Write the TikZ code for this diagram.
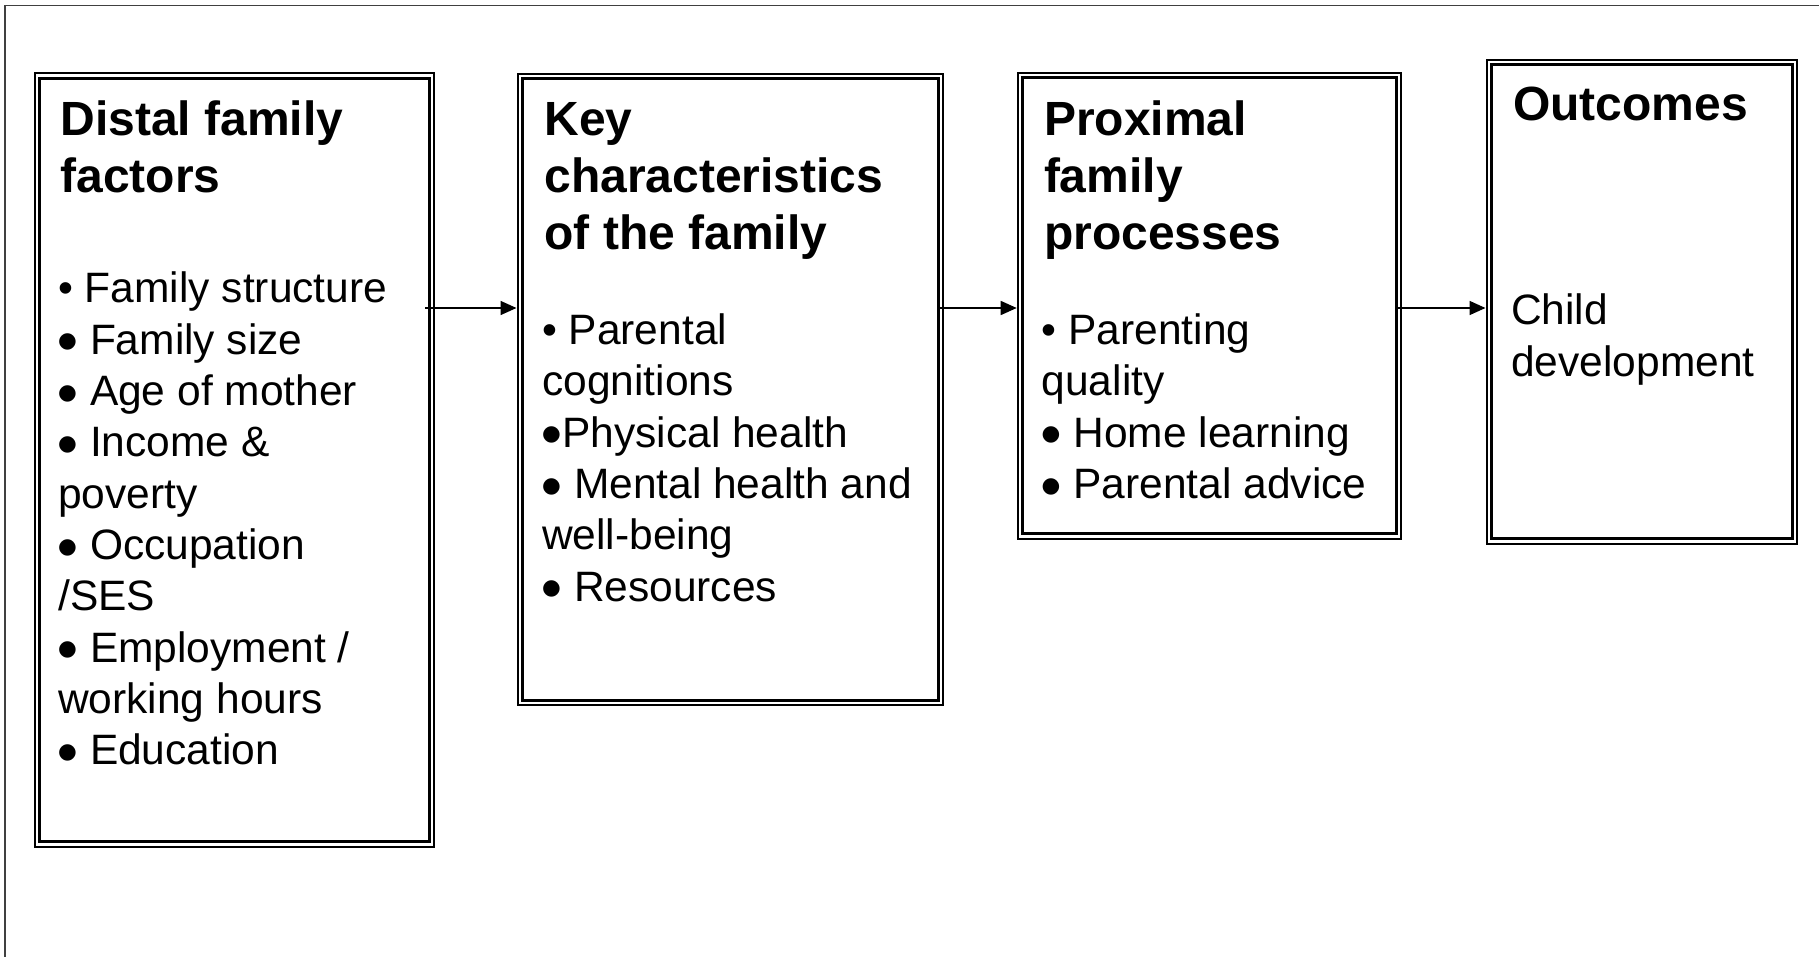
\documentclass[tikz,border=0pt]{standalone}
\usepackage{fontspec}
\setmainfont{Liberation Sans}
\newfontfamily\djv{DejaVu Sans}
\usetikzlibrary{arrows.meta}
\newcommand\bulS{\textbullet}
\newcommand\bulN{\makebox[20pt][l]{\raisebox{6.4pt}{\fontsize{21.5}{21.5}\djv ●}}}
\begin{document}
\begin{tikzpicture}[x=1pt,y=-1pt,
  frame/.style={line width=1.4pt,draw=black!75},
  box/.style={draw,line width=2pt,rectangle,inner sep=0pt,anchor=north west,
    path picture={\draw[line width=3pt] ([xshift=5pt,yshift=-5pt]path picture bounding box.north west) rectangle ([xshift=-5pt,yshift=5pt]path picture bounding box.south east);}},
  head/.style={anchor=base west,inner sep=0pt,text height=35pt,text depth=10pt,font=\fontsize{48}{56}\selectfont\bfseries},
  body/.style={anchor=base west,inner sep=0pt,text height=32pt,text depth=9pt,font=\fontsize{42.5}{51}\selectfont},
  arr/.style={line width=1.6pt,-{Triangle[length=16pt,width=14pt]}}]
\useasboundingbox (0,0) rectangle (1819,957);
\draw[frame] (5,957) -- (5,5.3) -- (1819,5.3);
% boxes
\node[box,minimum width=399.2pt,minimum height=773.2pt] (b1) at (33.8,72.5) {};
\node[box,minimum width=425.8pt,minimum height=631.6pt] (b2) at (516.5,72.7) {};
\node[box,minimum width=383.3pt,minimum height=465.7pt] (b3) at (1016.7,72) {};
\node[box,minimum width=310.8pt,minimum height=483.8pt] (b4) at (1485.5,59) {};
% box 1 text
\node[head] (h1a) at (60.3,136) {Distal family};
\node[head] (h1b) at (60.3,193) {factors};
\node[body] (t1a) at (58,303) {\bulS\ Family structure};
\node[body] (t1b) at (58,354.3) {\bulN\ Family size};
\node[body] (t1c) at (58,405.6) {\bulN\ Age of mother};
\node[body] (t1d) at (58,456.9) {\bulN\ Income \&};
\node[body] (t1e) at (58,508.2) {poverty};
\node[body] (t1f) at (58,559.5) {\bulN\ Occupation};
\node[body] (t1g) at (58,610.8) {/SES};
\node[body] (t1h) at (58,662.1) {\bulN\ Employment /};
\node[body] (t1i) at (58,713.4) {working hours};
\node[body] (t1j) at (58,764.7) {\bulN\ Education};
% box 2 text
\node[head] (h2a) at (544.3,136) {Key};
\node[head] (h2b) at (544.3,192.8) {characteristics};
\node[head] (h2c) at (544.3,249.6) {of the family};
\node[body] (t2a) at (542,344.5) {\bulS\ Parental};
\node[body] (t2b) at (542,395.8) {cognitions};
\node[body] (t2c) at (542,447.1) {\bulN Physical health};
\node[body] (t2d) at (542,498.4) {\bulN\ Mental health and};
\node[body] (t2e) at (542,549.7) {well-being};
\node[body] (t2f) at (542,601) {\bulN\ Resources};
% box 3 text
\node[head] (h3a) at (1043.8,136) {Proximal};
\node[head] (h3b) at (1043.8,192.8) {family};
\node[head] (h3c) at (1043.8,249.6) {processes};
\node[body] (t3a) at (1041.5,344.5) {\bulS\ Parenting};
\node[body] (t3b) at (1041.5,395.8) {quality};
\node[body] (t3c) at (1041.5,447.1) {\bulN\ Home learning};
\node[body] (t3d) at (1041.5,498.4) {\bulN\ Parental advice};
% box 4 text
\node[head] (h4a) at (1513,121) {Outcomes};
\node[body] (t4a) at (1511,325) {Child};
\node[body] (t4b) at (1511,376.3) {development};
% arrows
\coordinate (ya) at (0,308);
\path ([xshift=-10pt]b1.east) coordinate (s1)
      ([xshift=-4.5pt]b2.east) coordinate (s2)
      ([xshift=-5pt]b3.east) coordinate (s3);
\draw[arr] (s1 |- ya) -- (b2.west |- ya);
\draw[arr] (s2 |- ya) -- (b3.west |- ya);
\draw[arr] (s3 |- ya) -- (b4.west |- ya);
\end{tikzpicture}
\end{document}
